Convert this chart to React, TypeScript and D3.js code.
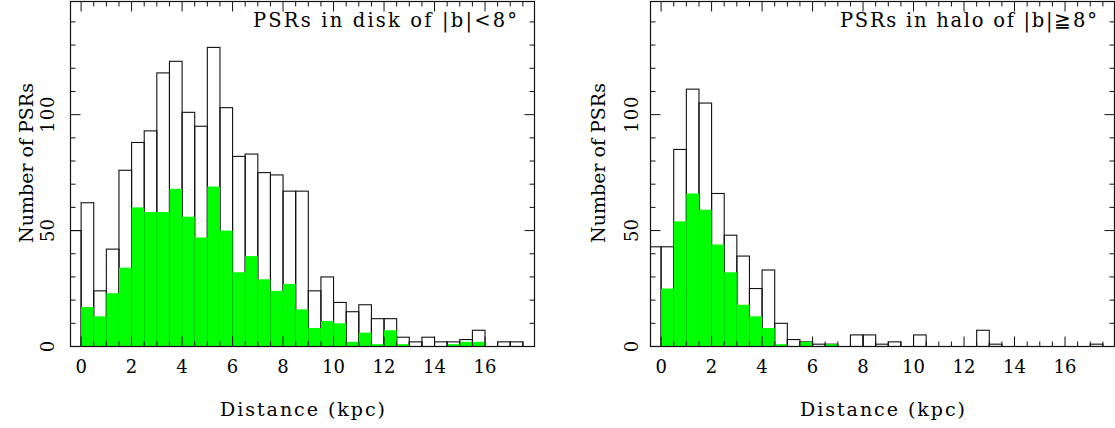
import React from 'react'
import * as d3 from 'd3'

// bins are 0.5 kpc wide, first bin starts at -0.5 (the step left of zero)
const binStart = -0.5
const binWidth = 0.5

const diskTotal = [50, 62, 24, 42, 76, 88, 93, 118, 123, 101, 95, 129, 103, 82, 83, 75, 74, 67, 67,
    24, 30, 19, 15, 18, 12, 12, 4, 2, 4, 2, 2, 3, 7, 0, 2, 2, 0]
const diskGreen = [0, 17, 13, 23, 34, 60, 58, 58, 68, 56, 47, 69, 50, 32, 39, 29, 24, 27, 16,
    8, 11, 10, 2, 6, 1, 7, 1, 0, 0, 0, 1, 2, 2, 0, 0, 0, 0]

const haloTotal = [43, 43, 85, 111, 105, 66, 48, 39, 25, 33, 10, 3, 2, 1, 1, 0, 5, 5, 1,
    2, 0, 5, 0, 0, 0, 0, 7, 1, 0, 0, 0, 0, 0, 0, 0, 1, 0]
const haloGreen = [0, 25, 54, 66, 59, 44, 32, 18, 13, 8, 1, 0, 2, 0, 1, 0, 0, 0, 0,
    0, 0, 0, 0, 0, 0, 0, 0, 0, 0, 0, 0, 0, 0, 0, 0, 0, 0]

const xTickLabels = [0, 2, 4, 6, 8, 10, 12, 14, 16]
const yTickLabels = [0, 50, 100]

const xDomain: [number, number] = [-0.42, 17.96]
const yDomain: [number, number] = [0, 148.8]

const FONT = '"DejaVu Serif", serif'

interface PanelProps {
    id: string
    left: number
    total: number[]
    green: number[]
    label: string
    labelX: number
    labelLen: number
    yTickX: number
    yTitleX: number
}

const top = 1.5
const bottom = 346.5
const width = 464

const Panel: React.FC<PanelProps> = ({ id, left, total, green, label, labelX, labelLen, yTickX, yTitleX }) => {
    const x = d3.scaleLinear().domain(xDomain).range([left, left + width])
    const y = d3.scaleLinear().domain(yDomain).range([bottom, top])

    const xMinor = d3.range(0, 18, 0.5).filter(v => v > xDomain[0] && v < xDomain[1])
    const yMinor = d3.range(0, 150, 10)

    const bins = total.map((t, i) => {
        const x0 = binStart + i * binWidth
        return { x0, x1: x0 + binWidth, t, g: green[i] }
    })

    return (
        <g>
            <defs>
                <clipPath id={`clip-${id}`}>
                    <rect x={left} y={top} width={width} height={bottom - top} />
                </clipPath>
            </defs>
            <g clipPath={`url(#clip-${id})`}>
                {bins.map((b, i) => (
                    <rect key={`o${i}`} x={x(b.x0)} y={y(b.t)} width={x(b.x1) - x(b.x0)}
                        height={y(0) - y(b.t)} fill="none" stroke="#111" strokeWidth={1.1} />
                ))}
                {bins.filter(b => b.g > 0).map((b, i) => (
                    <rect key={`g${i}`} x={x(b.x0)} y={y(b.g)} width={x(b.x1) - x(b.x0)}
                        height={y(0) - y(b.g)} fill="#00ff00" />
                ))}
            </g>
            {/* frame */}
            <rect x={left} y={top} width={width} height={bottom - top} fill="none" stroke="#111" strokeWidth={1.2} />
            {/* x ticks, bottom and top */}
            {xMinor.map(v => {
                const len = v % 2 === 0 ? 10 : 5
                return (
                    <g key={`xt${v}`} stroke="#111" strokeWidth={1}>
                        <line x1={x(v)} x2={x(v)} y1={bottom} y2={bottom - len} />
                        <line x1={x(v)} x2={x(v)} y1={top} y2={top + len} />
                    </g>
                )
            })}
            {/* y ticks, left and right */}
            {yMinor.map(v => {
                const len = v % 50 === 0 ? 10 : 5
                return (
                    <g key={`yt${v}`} stroke="#111" strokeWidth={1}>
                        <line x1={left} x2={left + len} y1={y(v)} y2={y(v)} />
                        <line x1={left + width} x2={left + width - len} y1={y(v)} y2={y(v)} />
                    </g>
                )
            })}
            {xTickLabels.map(v => (
                <text key={`xl${v}`} x={x(v)} y={373} textAnchor="middle" fontSize={18} fontFamily={FONT}>{v}</text>
            ))}
            {yTickLabels.map(v => (
                <text key={`yl${v}`} transform={`translate(${yTickX},${y(v)}) rotate(-90)`} textAnchor="middle"
                    fontSize={18} fontFamily={FONT} textLength={v === 100 ? 36 : undefined}
                    lengthAdjust="spacing">{v}</text>
            ))}
            <text x={left + width / 2} y={416} textAnchor="middle" fontSize={19} fontFamily={FONT}
                textLength={165} lengthAdjust="spacing">Distance (kpc)</text>
            <text transform={`translate(${yTitleX},163) rotate(-90)`} textAnchor="middle" fontSize={19}
                fontFamily={FONT}>Number of PSRs</text>
            <text x={labelX} y={27} fontSize={19.5} fontFamily={FONT} textLength={labelLen}
                lengthAdjust="spacing">{label}</text>
        </g>
    )
}

export default function App() {
    return (
        <svg width={1115} height={428} style={{ position: 'absolute', left: 0, top: 0, background: '#fff' }}>
            <rect width={1115} height={428} fill="#fff" />
            <Panel id="disk" left={70.5} total={diskTotal} green={diskGreen}
                label="PSRs in disk of |b|<8°" labelX={253} labelLen={264} yTickX={54} yTitleX={33} />
            <Panel id="halo" left={650.5} total={haloTotal} green={haloGreen}
                label="PSRs in halo of |b|≧8°" labelX={840} labelLen={257} yTickX={638} yTitleX={605} />
        </svg>
    )
}
